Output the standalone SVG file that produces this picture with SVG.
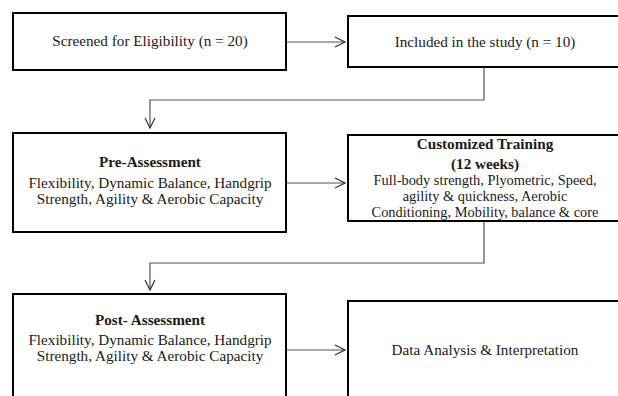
<svg xmlns="http://www.w3.org/2000/svg" width="618" height="396" viewBox="0 0 618 396">
<style>
.box{fill:#fff;stroke:#000;stroke-width:2}
text{font-family:"Liberation Serif","Times New Roman",serif;font-size:15.2px;fill:#1a1a1a;text-anchor:middle}
.b{font-weight:bold}
.s{font-size:14.4px}
.c{fill:none;stroke:#555;stroke-width:1.2}
</style>
<defs>
<marker id="ah" viewBox="0 0 12 12" refX="11" refY="6" markerWidth="12" markerHeight="12" markerUnits="userSpaceOnUse" orient="auto">
<path d="M1,1 L11,6 L1,11" fill="none" stroke="#333" stroke-width="1.2"/>
</marker>
</defs>
<rect width="618" height="396" fill="#fff"/>
<g id="connectors">
<path class="c" d="M286,42 H345" marker-end="url(#ah)"/>
<path class="c" d="M484,67 V100 H150 V128" marker-end="url(#ah)"/>
<path class="c" d="M286,183 H345" marker-end="url(#ah)"/>
<path class="c" d="M484,221 V263 H150 V290" marker-end="url(#ah)"/>
<path class="c" d="M286,350 H345" marker-end="url(#ah)"/>
</g>
<g id="screened">
<rect class="box" x="13" y="13" width="273" height="57"/>
<text x="150" y="46">Screened for Eligibility (n = 20)</text>
</g>
<g id="included">
<rect class="box" x="348" y="16" width="274" height="51"/>
<text x="485" y="47">Included in the study (n = 10)</text>
</g>
<g id="pre">
<rect class="box" x="13" y="133" width="273" height="99"/>
<text class="b" x="150" y="167">Pre-Assessment</text>
<text x="150" y="188">Flexibility, Dynamic Balance, Handgrip</text>
<text x="150" y="204">Strength, Agility &amp; Aerobic Capacity</text>
</g>
<g id="training">
<rect class="box" x="348" y="135" width="274" height="86"/>
<text class="b" x="485" y="149">Customized Training</text>
<text class="b" x="485" y="169">(12 weeks)</text>
<text class="s" x="485" y="185">Full-body strength, Plyometric, Speed,</text>
<text class="s" x="485" y="201">agility &amp; quickness, Aerobic</text>
<text class="s" x="485" y="217">Conditioning, Mobility, balance &amp; core</text>
</g>
<g id="post">
<rect class="box" x="13" y="294" width="273" height="110"/>
<text class="b" x="150" y="325">Post- Assessment</text>
<text x="150" y="345">Flexibility, Dynamic Balance, Handgrip</text>
<text x="150" y="361">Strength, Agility &amp; Aerobic Capacity</text>
</g>
<g id="analysis">
<rect class="box" x="348" y="301" width="274" height="110"/>
<text x="485" y="355">Data Analysis &amp; Interpretation</text>
</g>
</svg>
